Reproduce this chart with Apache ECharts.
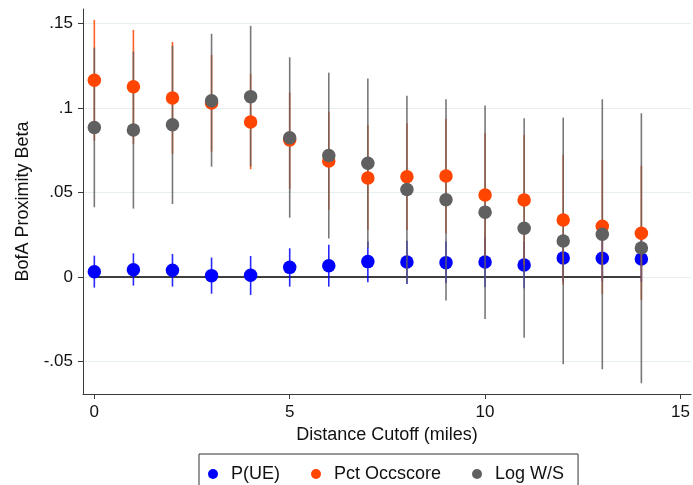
<!DOCTYPE html>
<html>
<head>
<meta charset="utf-8">
<script src="https://cdn.jsdelivr.net/npm/echarts@6/dist/echarts.min.js"></script>
<style>
html,body{margin:0;padding:0;background:#fff;}
#chart{width:693px;height:485px;}
</style>
</head>
<body>
<div id="chart"></div>
<script>
const xs = [0,1,2,3,4,5,6,7,8,9,10,11,12,13,14];

const pue   = [0.0031,0.0043,0.0040,0.0008,0.0010,0.0057,0.0067,0.0091,0.0089,0.0085,0.0089,0.0071,0.0113,0.0111,0.0107];
const pueLo = [-0.0063,-0.0051,-0.0057,-0.0099,-0.0107,-0.0057,-0.0057,-0.0031,-0.0041,-0.0037,-0.0060,-0.0067,-0.0025,-0.0027,-0.0030];
const pueHi = [0.0126,0.0140,0.0136,0.0115,0.0124,0.0170,0.0191,0.0210,0.0215,0.0210,0.0238,0.0210,0.0250,0.0249,0.0245];

const occ   = [0.1165,0.1126,0.1060,0.1031,0.0918,0.0812,0.0687,0.0586,0.0594,0.0598,0.0486,0.0456,0.0338,0.0300,0.0259];
const occLo = [0.0807,0.0788,0.0729,0.0742,0.0638,0.0522,0.0397,0.0278,0.0278,0.0259,0.0121,0.0071,-0.0047,-0.0101,-0.0136];
const occHi = [0.1523,0.1463,0.1392,0.1315,0.1203,0.1092,0.0979,0.0900,0.0910,0.0936,0.0851,0.0841,0.0723,0.0693,0.0659];

const lws   = [0.0885,0.0871,0.0902,0.1044,0.1068,0.0825,0.0719,0.0674,0.0518,0.0457,0.0384,0.0288,0.0213,0.0253,0.0172];
const lwsLo = [0.0413,0.0405,0.0432,0.0653,0.0655,0.0351,0.0228,0.0172,-0.0038,-0.0140,-0.0249,-0.0360,-0.0517,-0.0547,-0.0630];
const lwsHi = [0.1358,0.1335,0.1370,0.1440,0.1487,0.1301,0.1210,0.1175,0.1074,0.1053,0.1015,0.0940,0.0944,0.1053,0.0970];

const seriesNames = ['P(UE)','Pct Occscore','Log W/S'];
const xTicks = [0,5,10,15];
const yTicks = [-0.05,0,0.05,0.1,0.15];
const xTitle = 'Distance Cutoff (miles)';
const yTitle = 'BofA Proximity Beta';

const C_BLUE = '#0000ff', C_ORANGE = '#ff4500', C_GRAY = '#606060';
const FONT = '"Liberation Sans", Arial, sans-serif';

function spike(name, lo, hi, color, z) {
  return {
    type: 'custom', name: name + ' CI', z: z,
    encode: {x: 0, y: [1, 2]},
    data: xs.map((x, i) => [x, lo[i], hi[i]]),
    silent: true,
    renderItem: function (params, api) {
      const p1 = api.coord([api.value(0), api.value(1)]);
      const p2 = api.coord([api.value(0), api.value(2)]);
      return {type: 'line', shape: {x1: p1[0], y1: p1[1], x2: p2[0], y2: p2[1]},
              style: {stroke: color, lineWidth: 1.6, opacity: 0.85}};
    }
  };
}
function dots(name, vals, color, z) {
  return {
    type: 'scatter', name: name, z: z,
    data: xs.map((x, i) => [x, vals[i]]),
    symbol: 'circle', symbolSize: 13.5,
    itemStyle: {color: color, opacity: 1},
    silent: true
  };
}
function fmtY(v) {
  if (Math.abs(v) < 1e-12) return '0';
  const s = String(Math.round(Math.abs(v) * 1000) / 1000).replace(/^0/, '');
  return (v < 0 ? '-' : '') + s;
}

const legendText = {fontSize: 18, color: '#111', fontFamily: FONT};
const chart = echarts.init(document.getElementById('chart'), null, {renderer: 'canvas'});
chart.setOption({
  animation: false,
  backgroundColor: '#ffffff',
  textStyle: {fontFamily: FONT},
  grid: {left: 83, right: 2, top: 9, bottom: 91, containLabel: false},
  legend: {
    data: [
      {name: seriesNames[0], icon: 'circle', textStyle: Object.assign({padding: [0, 0, 0, 8]}, legendText)},
      {name: seriesNames[1], icon: 'circle', textStyle: Object.assign({padding: [0, 5, 0, 8]}, legendText)},
      {name: seriesNames[2], icon: 'circle', textStyle: Object.assign({padding: [0, 0, 0, 8]}, legendText)}
    ],
    left: 199, top: 454,
    itemWidth: 10, itemHeight: 10, itemGap: 31,
    padding: [11, 14, 12, 9],
    borderColor: '#333', borderWidth: 1,
    textStyle: legendText
  },
  xAxis: {
    type: 'value', min: -0.29, max: 15.27,
    name: xTitle, nameLocation: 'middle', nameGap: 26,
    nameTextStyle: {fontSize: 18, color: '#111', fontFamily: FONT},
    axisLine: {show: true, onZero: false, lineStyle: {color: '#3a3a3a', width: 1}},
    axisTick: {show: true, length: 5, customValues: xTicks, lineStyle: {color: '#3a3a3a'}},
    axisLabel: {customValues: xTicks, fontSize: 17, color: '#111', margin: 10, fontFamily: FONT},
    splitLine: {show: false}
  },
  yAxis: {
    type: 'value', min: -0.0693, max: 0.1587,
    name: yTitle, nameLocation: 'middle', nameGap: 51, nameRotate: 90,
    nameTextStyle: {fontSize: 18, color: '#111', fontFamily: FONT},
    axisLine: {show: true, onZero: false, lineStyle: {color: '#3a3a3a', width: 1}},
    axisTick: {show: true, length: 5, customValues: yTicks, lineStyle: {color: '#3a3a3a'}},
    axisLabel: {customValues: yTicks, fontSize: 17, color: '#111', margin: 10, formatter: fmtY, fontFamily: FONT},
    splitLine: {show: true, lineStyle: {color: '#e6eef1', width: 1}}
  },
  series: [
    {
      type: 'line', name: 'zero', z: 1, silent: true,
      data: [[xs[0], 0], [xs[xs.length - 1], 0]],
      symbol: 'none', lineStyle: {color: '#000', width: 1.3}
    },
    spike(seriesNames[0], pueLo, pueHi, C_BLUE, 2),
    dots(seriesNames[0], pue, C_BLUE, 3),
    spike(seriesNames[1], occLo, occHi, C_ORANGE, 4),
    spike(seriesNames[2], lwsLo, lwsHi, C_GRAY, 5),
    dots(seriesNames[1], occ, C_ORANGE, 6),
    dots(seriesNames[2], lws, C_GRAY, 7)
  ]
});
</script>
</body>
</html>
